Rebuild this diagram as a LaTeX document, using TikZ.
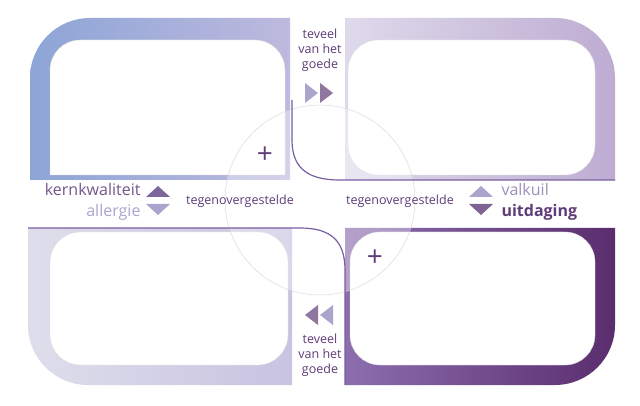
\documentclass[tikz,border=0pt]{standalone}
\usepackage{fontspec}
\setmainfont{Open Sans}
\begin{document}
\begin{tikzpicture}[x=1pt,y=-1pt]
\definecolor{c1}{RGB}{140,165,215}\definecolor{c2}{RGB}{190,185,222}
\definecolor{c3}{RGB}{222,218,235}\definecolor{c4}{RGB}{190,172,210}
\definecolor{c5}{RGB}{222,222,235}\definecolor{c6}{RGB}{200,195,225}
\definecolor{c7}{RGB}{140,110,175}\definecolor{c8}{RGB}{90,45,110}
\definecolor{txt}{RGB}{95,60,120}\definecolor{lt}{RGB}{170,165,205}
\definecolor{ln}{RGB}{120,95,160}
\tikzset{lbl/.style={font=\fontsize{12.5}{15}\selectfont,text=txt,align=center},
 big/.style={font=\fontsize{16}{17}\selectfont},
 inner/.style={fill=white, draw=gray!30}}
\useasboundingbox (0,0) rectangle (640,406);
\fill[white] (0,0) rectangle (640,406);
% quadrants
\shade[left color=c1,right color=c2,rounded corners=60] (290,18) -- (30,18) [sharp corners] -- (30,180) -- (290,180) -- cycle;
\shade[left color=c3,right color=c4,rounded corners=60] (345,18) -- (615,18) [sharp corners] -- (615,180) -- (345,180) -- cycle;
\shade[left color=c5,right color=c6,rounded corners=60] (292,385) -- (28,385) [sharp corners] -- (28,228) -- (292,228) -- cycle;
\shade[left color=c7,right color=c8,rounded corners=60] (345,385) -- (615,385) [sharp corners] -- (615,228) -- (345,228) -- cycle;
% inner
\path[inner,rounded corners=30] (50,175) -- (50,40) -- (285,40) [sharp corners] -- (285,175) -- cycle;
\path[inner,rounded corners=30] (348,175) -- (348,40) [rounded corners=30] -- (595,40) -- (595,175) -- cycle;
\path[inner,rounded corners=30] (288,232) -- (288,365) -- (50,365) -- (50,232) -- cycle;
\path[inner,rounded corners=30] (350,232) -- (595,232) -- (595,365) -- (350,365) -- cycle;
% band between
\fill[white] (0,181) rectangle (640,227);
\fill[white] (293,0) rectangle (344,406);
% circle
\node[circle,minimum size=190pt,draw=gray!35,fill=white,fill opacity=0.35] (c) at (320,200) {};
% curves
\coordinate (t) at (292,100); \coordinate (r) at (615,180);
\coordinate (b) at (345,385); \coordinate (l) at (28,228);
\draw[ln,line width=1.2pt] (t) -- (292,140) .. controls (292,170) and (310,180) .. (340,180) -- (r);
\draw[ln,line width=1.2pt] (l) -- (300,228) .. controls (330,228) and (345,240) .. (345,270) -- (b);
% texts
\node[lbl] (tt) at (320,50) {teveel\\van het\\goede};
\node[lbl] (bt) at (320,355) {teveel\\van het\\goede};
\fill[lt] (305,83) -- (318,93) -- (305,103) -- cycle;
\fill[txt!70] (320,83) -- (333,93) -- (320,103) -- cycle;
\fill[txt!70] (318,305) -- (305,315) -- (318,325) -- cycle;
\fill[lt] (333,305) -- (320,315) -- (333,325) -- cycle;
\node[lbl] (tl) at (240,201) {tegenovergestelde};
\node[lbl] (tr) at (400,201) {tegenovergestelde};
\node[big,text=txt!75!lt,anchor=east] (kk) at (144,190) {kernkwaliteit};
\node[big,text=lt,anchor=east] (al) at (144,212) {allergie};
\node[big,text=lt!80!txt,anchor=west] (vk) at (498,190) {valkuil};
\node[text=txt,anchor=west,font=\fontsize{16}{17}\selectfont\bfseries] (ui) at (498,212) {uitdaging};
\fill[txt!60!lt] (146,197) -- (158,186) -- (170,197) -- cycle;
\fill[lt] (146,204) -- (158,215) -- (170,204) -- cycle;
\fill[lt] (469,197) -- (481,186) -- (493,197) -- cycle;
\fill[txt!80] (469,204) -- (481,215) -- (493,204) -- cycle;
\node[font=\fontsize{28}{28}\selectfont,text=txt] (p1) at (265,155) {+};
\node[font=\fontsize{28}{28}\selectfont,text=txt] (p2) at (375,258) {+};
\node[font=\fontsize{16}{16}\selectfont,text=white] (m1) at (372,150) {--};
\node[font=\fontsize{16}{16}\selectfont,text=white] (m2) at (265,256) {--};
\end{tikzpicture}
\end{document}
